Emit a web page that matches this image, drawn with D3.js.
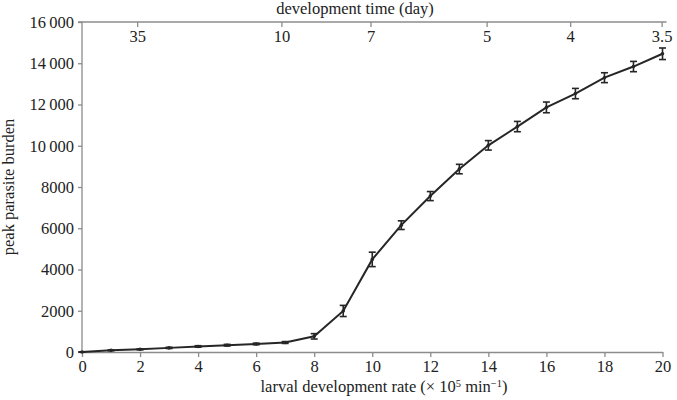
<!DOCTYPE html>
<html>
<head>
<meta charset="utf-8">
<script src="https://cdn.jsdelivr.net/npm/d3@7"></script>
<style>
  html, body { margin: 0; padding: 0; background: #fff; }
  svg text { font-family: "Liberation Serif", "DejaVu Serif", serif; fill: #222; }
</style>
</head>
<body>
<div id="chart"></div>
<script>
/* Peak parasite burden vs larval development rate, with a secondary
   "development time" axis on top. */
var rates   = [0, 1, 2, 3, 4, 5, 6, 7, 8, 9, 10, 11, 12, 13, 14, 15, 16, 17, 18, 19, 20];
var burden  = [0, 80, 130, 200, 270, 330, 390, 460, 760, 1990, 4490, 6150, 7560, 8870, 10020, 10930, 11860, 12530, 13300, 13840, 14460];
var errs    = [0, 20, 25, 30, 35, 40, 40, 45, 130, 270, 350, 210, 220, 230, 230, 250, 260, 250, 240, 250, 280];
var yTickVals = [0, 2000, 4000, 6000, 8000, 10000, 12000, 14000, 16000];
var xTickVals = [0, 2, 4, 6, 8, 10, 12, 14, 16, 18, 20];
/* top axis: development time labels and where they sit on the rate axis */
var dayLabels = ['35', '10', '7', '5', '4', '3.5'];
var dayRates  = [1.9, 6.87, 9.94, 13.94, 16.82, 19.97];

(function () {
  'use strict';
  var W = 677, H = 400;
  var margin = { top: 22, right: 14.5, bottom: 48, left: 82 };
  var iw = W - margin.left - margin.right;
  var ih = H - margin.top - margin.bottom;
  var axisColor = '#8c8c8c';
  var fs = '16.5px';

  var svg = d3.select('#chart').append('svg').attr('width', W).attr('height', H);
  var g = svg.append('g').attr('transform', 'translate(' + margin.left + ',' + margin.top + ')');

  var x = d3.scaleLinear().domain([0, 20]).range([0, iw]);
  var y = d3.scaleLinear().domain([0, 16000]).range([ih, 0]);

  function fmtY(v) {
    if (v >= 10000) return d3.format(',')(v).replace(',', '\u2009');
    return String(v);
  }

  /* Left axis */
  var yAxis = g.append('g').call(d3.axisLeft(y).tickValues(yTickVals).tickSize(4).tickPadding(4).tickFormat(fmtY));
  /* Bottom axis */
  var xAxis = g.append('g').attr('transform', 'translate(0,' + ih + ')')
    .call(d3.axisBottom(x).tickValues(xTickVals).tickSize(5).tickPadding(3).tickSizeOuter(0));
  /* Top axis: ticks point inward, labels inside the frame */
  var topAxis = g.append('g')
    .call(d3.axisBottom(x).tickValues(dayRates).tickSize(5).tickPadding(3).tickSizeOuter(0)
      .tickFormat(function (d, i) { return dayLabels[i]; }));
  topAxis.select('.domain').attr('d', 'M0,0H' + (iw + 4));

  [yAxis, xAxis, topAxis].forEach(function (a) {
    a.select('.domain').attr('stroke', axisColor).attr('stroke-width', 1.3);
    a.selectAll('.tick line').attr('stroke', axisColor).attr('stroke-width', 1.3);
    a.selectAll('.tick text').style('font-size', fs).style('fill', '#222')
      .attr('font-family', null);
  });
  yAxis.select('.domain').attr('d', 'M-4,0H0V' + ih + 'H-4');

  /* Axis titles */
  g.append('text')
    .attr('x', 273).attr('y', -8)
    .attr('text-anchor', 'middle').style('font-size', fs)
    .text('development time (day)');

  var xl = g.append('text')
    .attr('x', 302).attr('y', ih + 40)
    .attr('text-anchor', 'middle').style('font-size', fs);
  xl.append('tspan').text('larval development rate (\u00d7 10');
  xl.append('tspan').attr('dy', -5).style('font-size', '10.5px').text('5');
  xl.append('tspan').attr('dy', 5).text(' min');
  xl.append('tspan').attr('dy', -5).style('font-size', '10.5px').text('\u22121');
  xl.append('tspan').attr('dy', 5).text(')');

  g.append('text')
    .attr('transform', 'translate(' + (-68) + ',' + (ih / 2) + ') rotate(-90)')
    .attr('text-anchor', 'middle').style('font-size', fs)
    .text('peak parasite burden');

  /* Data line */
  var pts = rates.map(function (r, i) { return { x: r, y: burden[i], e: errs[i] }; });
  var line = d3.line().x(function (d) { return x(d.x); }).y(function (d) { return y(d.y); });
  g.append('path').datum(pts)
    .attr('fill', 'none').attr('stroke', '#262626').attr('stroke-width', 2)
    .attr('d', line);

  /* Error bars */
  var cap = 3.5;
  var eb = g.append('g').attr('stroke', '#262626').attr('stroke-width', 1.6);
  pts.forEach(function (d) {
    var cx = x(d.x), y0 = y(d.y - d.e), y1 = y(d.y + d.e);
    eb.append('line').attr('x1', cx).attr('x2', cx).attr('y1', y0).attr('y2', y1);
    eb.append('line').attr('x1', cx - cap).attr('x2', cx + cap).attr('y1', y0).attr('y2', y0);
    eb.append('line').attr('x1', cx - cap).attr('x2', cx + cap).attr('y1', y1).attr('y2', y1);
  });
  g.append('g').selectAll('circle').data(pts).enter().append('circle')
    .attr('cx', function (d) { return x(d.x); })
    .attr('cy', function (d) { return y(d.y); })
    .attr('r', 1.8).attr('fill', '#262626');
})();
</script>
</body>
</html>
